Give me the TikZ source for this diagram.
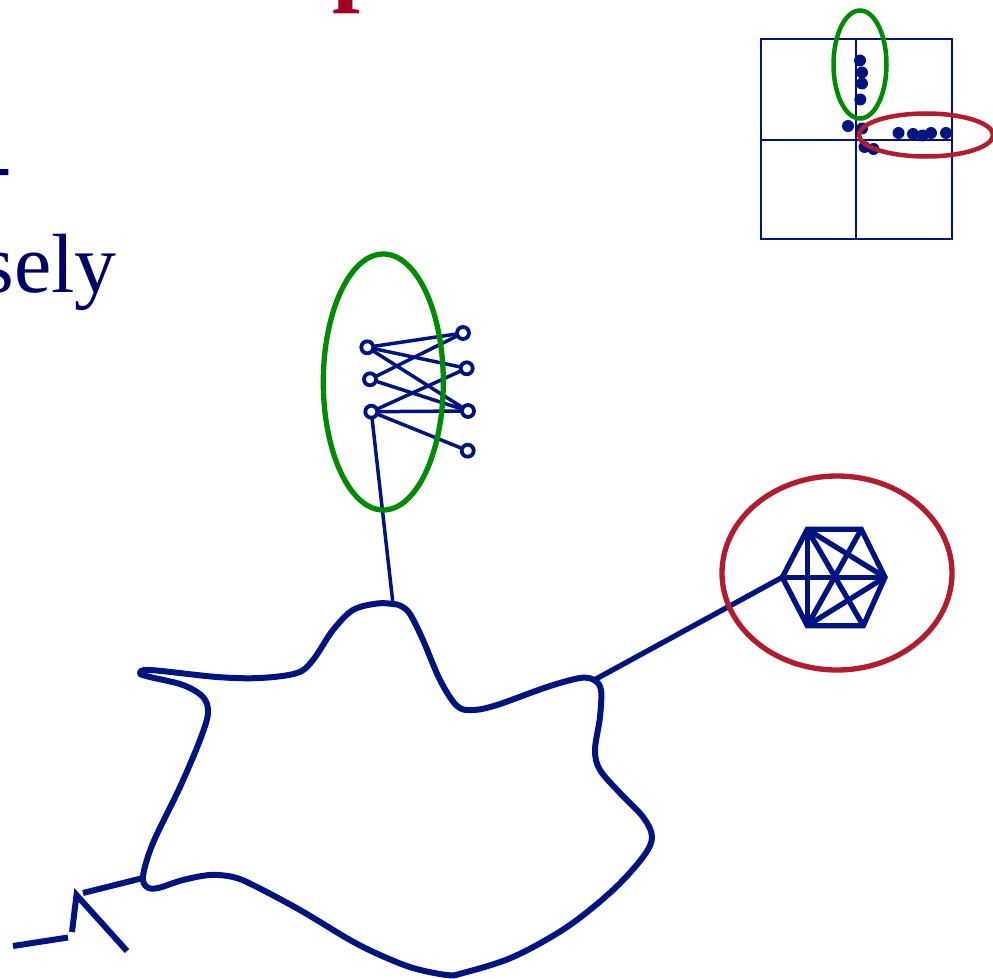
\documentclass[tikz,border=0pt]{standalone}
\usepackage{fontspec}
\setmainfont{Liberation Serif}
\definecolor{navyline}{HTML}{001480}
\definecolor{navytext}{HTML}{000066}
\definecolor{ellred}{HTML}{B21C2E}
\definecolor{ellgreen}{HTML}{008C00}
\definecolor{titlered}{HTML}{A50021}
\tikzset{
  blobline/.style={draw=navyline, line width=6pt, line join=round},
  graphedge/.style={draw=navyline, line width=3.5pt},
  hexedge/.style={draw=navyline, line width=5.3pt, line join=miter},
  vtx/.style={circle, draw=navyline, fill=white, line width=3.8pt, minimum size=12pt, inner sep=0pt},
  pdot/.style={circle, fill=navyline, minimum size=12pt, inner sep=0pt},
  greenell/.style={draw=ellgreen, line width=5.3pt},
  redell/.style={draw=ellred, line width=5.3pt},
  boxline/.style={draw=navyline, line width=2.8pt},
}
\begin{document}
\begin{tikzpicture}[x=1pt,y=-1pt]
\useasboundingbox (0,0) rectangle (993,979);
\clip (0,0) rectangle (993,979);
\fill[white] (0,0) rectangle (993,979);

% partial text
\node[anchor=base west, inner sep=0, text=titlered, font=\fontsize{100}{110}\bfseries\selectfont] (title) at (332.5,-7.5) {p};
\node[anchor=base west, inner sep=0, text=navytext, font=\fontsize{72}{86}\bfseries\selectfont] (dash) at (-12.7,189) {-};
\node[anchor=base east, inner sep=0, text=navytext, font=\fontsize{84}{100}\selectfont] (sely) at (117,292) {sely};

% ---------- small quadrant box ----------
\coordinate (bx1) at (761,39);
\coordinate (bx2) at (952,239);
\coordinate (vt) at (856,39);
\coordinate (vb) at (856,239);
\coordinate (hl) at (761,140);
\coordinate (hr) at (952,140);
\draw[boxline] (bx1) rectangle (bx2);
\draw[boxline] (vt) -- (vb);
\draw[boxline] (hl) -- (hr);
\foreach \n/\p in {d1/{(860,60.5)}, d2/{(862,72.5)}, d3/{(862,83.5)}, d4/{(860.3,99.5)},
  d5/{(848,126)}, d6/{(862,128.5)}, d7/{(864.5,147)}, d8/{(873.5,149)},
  d9/{(898.5,133)}, d10/{(913,134)}, d11/{(922.5,135.5)}, d12/{(931,133)}, d13/{(946,133)}}
  \node[pdot] (\n) at \p {};
\draw[greenell, line width=4.5pt] (860,64.5) ellipse [x radius=26.5, y radius=54];
\draw[redell, line width=4.5pt] (926,135) ellipse [x radius=67, y radius=21.5];

% ---------- blob ----------
\coordinate (btop) at (393,604);
\coordinate (bright) at (595,679.5);
\coordinate (bleft) at (143,878);
\draw[blobline] plot[smooth cycle, tension=0.55] coordinates {
 (393,604) (401,606) (410,614) (423,640) (440,680) (457,706) (473,710) (497,705)
 (547,687) (580,678) (594,680) (601,690) (600,717) (595,750) (600,770) (620,793)
 (643,817) (652,837) (643,857) (613,890) (567,927) (513,957) (463,973) (447,975)
 (413,968) (380,955) (350,940) (300,910) (253,885) (233,877) (210,875) (183,880)
 (158,888) (147,887) (143,876) (153,843) (180,787) (200,740) (208,713) (203,697)
 (183,685) (150,677) (140,673.5) (150,670) (217,677) (260,678) (297,673) (313,660)
 (333,630) (353,610) (377,603.5)};

% left stub lines
\coordinate (za1) at (13,946);
\coordinate (za2) at (68,937.5);
\coordinate (zb1) at (72,932);
\coordinate (zapex) at (76.5,895);
\coordinate (zc) at (127,951);
\coordinate (zd) at (83,893);
\draw[blobline] (za1) -- (za2);
\draw[blobline, line join=miter] (zb1) -- (zapex) -- (zc);
\draw[blobline] (zd) -- (bleft);

% ---------- bipartite graph ----------
\coordinate (l1) at (367.3,347.3);
\coordinate (l2) at (370,379.3);
\coordinate (l3) at (371.3,411.7);
\coordinate (r1) at (463,333);
\coordinate (r2) at (466.7,368.3);
\coordinate (r3) at (468,411);
\coordinate (r4) at (467.7,450.7);
\draw[graphedge] (l1) -- (r1);
\draw[graphedge] (l1) -- (r2);
\draw[graphedge] (l1) -- (r3);
\draw[graphedge] (l2) -- (r1);
\draw[graphedge] (l2) -- (r3);
\draw[graphedge] (l3) -- (r2);
\draw[graphedge] (l3) -- (r3);
\draw[graphedge] (l3) -- (r4);
\draw[graphedge] (l3) -- (btop);
\foreach \n in {l1,l2,l3,r1,r2,r3,r4}
  \node[vtx] (v\n) at (\n) {};
\draw[greenell] (383.3,382) ellipse [x radius=60, y radius=128];

% ---------- hexagon ----------
\coordinate (htl) at (807.3,529.3);
\coordinate (htr) at (861.3,529.3);
\coordinate (hr6) at (885,577.3);
\coordinate (hbr) at (863.3,625.7);
\coordinate (hbl) at (807.3,625.7);
\coordinate (hl6) at (782.3,577.3);
\draw[hexedge] (bright) -- (hl6);
\draw[hexedge] (htl) -- (htr) -- (hr6) -- (hbr) -- (hbl) -- (hl6) -- cycle;
\draw[hexedge] (htl) -- (hbl);
\draw[hexedge] (htl) -- (hr6);
\draw[hexedge] (htl) -- (hbr);
\draw[hexedge] (htr) -- (hbl);
\draw[hexedge] (hbl) -- (hr6);
\draw[hexedge] (hl6) -- (hr6);
\draw[redell] (837,573) ellipse [x radius=115, y radius=97];
\end{tikzpicture}
\end{document}
